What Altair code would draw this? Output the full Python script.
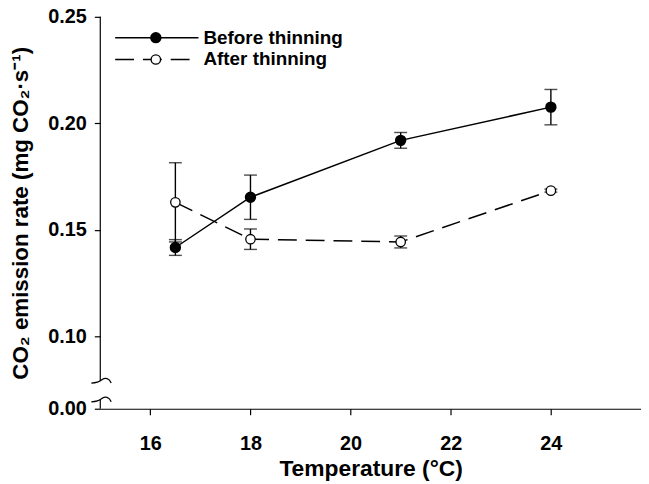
import altair as alt
import pandas as pd

# ---- data ----
temps = [16.5, 18, 21, 24]
before_mean = [0.1417, 0.1653, 0.1920, 0.2076]
before_err = [0.0037, 0.0104, 0.0037, 0.0083]
after_mean = [0.1629, 0.1456, 0.1443, 0.1684]
after_err = [0.0186, 0.0048, 0.0028, 0.0007]
series_names = ["Before thinning", "After thinning"]

x_ticks = [16, 18, 20, 22, 24]
y_bottom = 0.066           # position standing for the 0.00 label (axis break)
y_ticks = [y_bottom, 0.10, 0.15, 0.20, 0.25]
break_upper = 0.0790
break_lower = 0.0702

rows = []
for t, m, e in zip(temps, before_mean, before_err):
    rows.append({"T": t, "rate": m, "lo": m - e, "hi": m + e, "series": series_names[0]})
for t, m, e in zip(temps, after_mean, after_err):
    rows.append({"T": t, "rate": m, "lo": m - e, "hi": m + e, "series": series_names[1]})
df = pd.DataFrame(rows)

FONT = "Liberation Sans"
YTITLE = "CO₂ emission rate (mg CO₂·s⁻¹)"
XTITLE = "Temperature (°C)"

xscale = alt.Scale(domain=[15, 25.8], nice=False, zero=False)
yscale = alt.Scale(domain=[y_bottom, 0.25], nice=False, zero=False)

xax = alt.X("T:Q", scale=xscale, title=XTITLE,
            axis=alt.Axis(values=x_ticks, format="d",
                          tickSize=6, labelPadding=19, titlePadding=4,
                          labelFontSize=20, labelFontWeight="bold", labelFont=FONT,
                          titleFontSize=23, titleFontWeight="bold", titleFont=FONT,
                          domainColor="black", tickColor="black", labelColor="black",
                          titleColor="black", grid=False, domainWidth=1.2, tickWidth=1.2))
yax = alt.Y("rate:Q", scale=yscale, title=YTITLE,
            axis=alt.Axis(values=y_ticks,
                          labelExpr="datum.value < 0.08 ? '0.00' : format(datum.value, '.2f')",
                          tickSize=6, labelPadding=8, titlePadding=15, domain=False,
                          labelFontSize=20, labelFontWeight="bold", labelFont=FONT,
                          titleFontSize=22.5, titleFontWeight="bold", titleFont=FONT,
                          tickColor="black", labelColor="black", titleColor="black",
                          grid=False, tickWidth=1.2))

base = alt.Chart(df)
before = base.transform_filter(alt.datum.series == series_names[0])
after = base.transform_filter(alt.datum.series == series_names[1])

line_b = before.mark_line(color="black", strokeWidth=1.5).encode(x=xax, y=yax)
line_a = after.mark_line(color="black", strokeWidth=1.5, strokeDash=[19, 9]).encode(
    x=alt.X("T:Q", title=XTITLE), y=alt.Y("rate:Q", title=YTITLE))

err = base.mark_errorbar(ticks={"size": 13, "thickness": 1.4, "color": "black"},
                         color="black", thickness=1.4).encode(
    x=alt.X("T:Q", title=XTITLE), y=alt.Y("lo:Q", title=YTITLE), y2="hi:Q")

pts_b = before.mark_point(filled=True, fill="black", stroke="black", size=90, opacity=1).encode(
    x=alt.X("T:Q", title=XTITLE), y=alt.Y("rate:Q", title=YTITLE))
pts_a = after.mark_point(filled=True, fill="white", stroke="black", strokeWidth=1.3, size=90,
                         opacity=1).encode(x=alt.X("T:Q", title=XTITLE), y=alt.Y("rate:Q", title=YTITLE))

# y-axis line with break
axis_df = pd.DataFrame({"y1": [0.25, break_lower], "y2": [break_upper, y_bottom]})
axis_line = alt.Chart(axis_df).mark_rule(color="black", strokeWidth=1.2).encode(
    x=alt.value(0), y=alt.Y("y1:Q", title=YTITLE), y2="y2:Q")

break_df = pd.DataFrame({"yb": [break_upper, break_lower]})
break_path = "M -1 0.2 C -0.6 0.2 -0.2 0.1 0.1 -0.15 C 0.4 -0.35 0.8 -0.3 1 0.2"
breaks = alt.Chart(break_df).mark_point(shape=break_path, filled=False, stroke="black",
                                        strokeWidth=1.3, size=400, opacity=1).encode(
    x=alt.value(1), y=alt.Y("yb:Q", title=YTITLE))

# manual legend (pixel placement inside the plot)
leg_df = pd.DataFrame({"name": series_names})
leg_b = alt.Chart(leg_df).transform_filter(alt.datum.name == series_names[0])
leg_a = alt.Chart(leg_df).transform_filter(alt.datum.name == series_names[1])
leg_line_b = leg_b.mark_rule(color="black", strokeWidth=1.5).encode(
    x=alt.value(15), x2=alt.value(99), y=alt.value(21))
leg_line_a = leg_a.mark_rule(color="black", strokeWidth=1.5, strokeDash=[19, 9]).encode(
    x=alt.value(15), x2=alt.value(99), y=alt.value(43))
leg_pt_b = leg_b.mark_point(filled=True, fill="black", stroke="black", size=90, opacity=1).encode(
    x=alt.value(56), y=alt.value(21))
leg_pt_a = leg_a.mark_point(filled=True, fill="white", stroke="black", strokeWidth=1.3, size=90,
                            opacity=1).encode(x=alt.value(56), y=alt.value(43))
txt_kw = dict(align="left", baseline="middle", font=FONT, fontSize=19, fontWeight="bold", color="black")
leg_txt_b = leg_b.mark_text(**txt_kw).encode(x=alt.value(104), y=alt.value(21), text="name:N")
leg_txt_a = leg_a.mark_text(**txt_kw).encode(x=alt.value(104), y=alt.value(43), text="name:N")

chart = alt.layer(line_b, line_a, err, pts_b, pts_a, axis_line, breaks,
                  leg_line_b, leg_line_a, leg_pt_b, leg_pt_a, leg_txt_b, leg_txt_a).properties(
    width=545, height=395, autosize="none",
    padding={"left": 93, "top": 7, "right": 0, "bottom": 80},
    background="white"
).configure_view(stroke=None)

chart.save("out.html", embed_options={"renderer": "svg", "actions": False})
